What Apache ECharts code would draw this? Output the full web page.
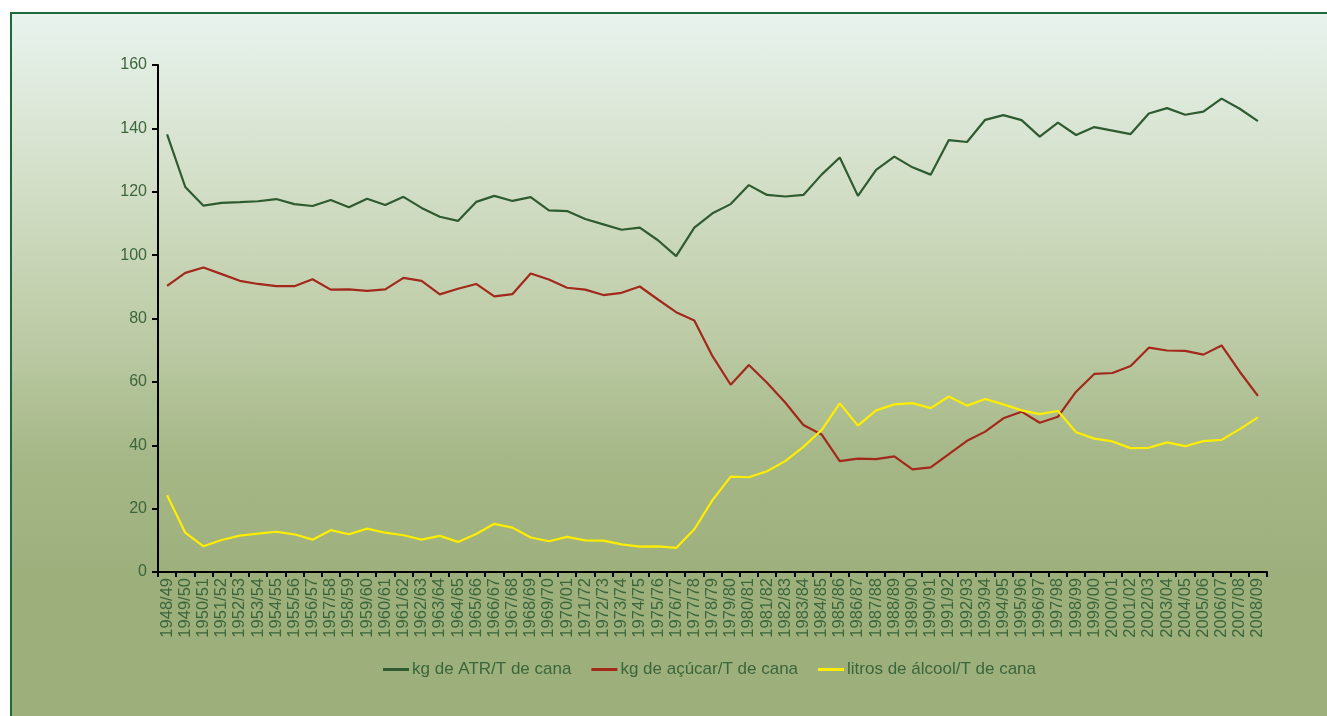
<!DOCTYPE html>
<html>
<head>
    <meta charset="utf-8">
    <title>ATR, açúcar e álcool por tonelada de cana</title>
    <script src="https://cdn.jsdelivr.net/npm/echarts@6/dist/echarts.min.js"></script>
    <style>
        html, body { margin: 0; padding: 0; background: #ffffff; overflow: hidden; }
        #bg {
            position: absolute; left: 10px; top: 12px; width: 1330px; height: 720px;
            border-top: 2px solid #1e6a3a; border-left: 2px solid #1e6a3a;
            background: linear-gradient(to bottom, #e8f3ee 0%, #d4e0c9 22%, #bccba5 45%, #a5b786 62%, #9db07c 78%, #9db07c 100%);
        }
        #main { position: absolute; left: 0; top: 0; width: 1327px; height: 716px; }
    </style>
</head>
<body>
    <div id="bg"></div>
    <div id="main"></div>

    <script>
        // safras 1948/49 .. 2008/09
        var safras = [
            '1948/49', '1949/50', '1950/51', '1951/52', '1952/53', '1953/54', '1954/55', '1955/56', '1956/57', '1957/58',
            '1958/59', '1959/60', '1960/61', '1961/62', '1962/63', '1963/64', '1964/65', '1965/66', '1966/67', '1967/68',
            '1968/69', '1969/70', '1970/01', '1971/72', '1972/73', '1973/74', '1974/75', '1975/76', '1976/77', '1977/78',
            '1978/79', '1979/80', '1980/81', '1981/82', '1982/83', '1983/84', '1984/85', '1985/86', '1986/87', '1987/88',
            '1988/89', '1989/90', '1990/91', '1991/92', '1992/93', '1993/94', '1994/95', '1995/96', '1996/97', '1997/98',
            '1998/99', '1999/00', '2000/01', '2001/02', '2002/03', '2003/04', '2004/05', '2005/06', '2006/07', '2007/08',
            '2008/09'
        ];

        // kg de ATR/T de cana
        var atr = [
            138.1, 121.5, 115.6, 116.5, 116.7, 117.0, 117.7, 116.1, 115.5, 117.4,
            115.1, 117.8, 115.8, 118.4, 114.9, 112.1, 110.8, 116.8, 118.7, 117.1,
            118.3, 114.1, 113.9, 111.4, 109.7, 108.0, 108.7, 104.7, 99.7, 108.7,
            113.2, 116.1, 122.1, 119.0, 118.5, 119.0, 125.4, 130.8, 118.7, 126.9,
            131.1, 127.7, 125.4, 136.3, 135.7, 142.7, 144.2, 142.6, 137.4, 141.8,
            137.9, 140.4, 139.3, 138.2, 144.7, 146.4, 144.3, 145.3, 149.4, 146.2,
            142.3
        ];

        // kg de açúcar/T de cana
        var acucar = [
            90.3, 94.4, 96.1, 94.0, 91.9, 90.9, 90.2, 90.2, 92.4, 89.1,
            89.2, 88.7, 89.2, 92.8, 91.9, 87.6, 89.4, 90.9, 87.0, 87.7,
            94.2, 92.3, 89.7, 89.1, 87.4, 88.1, 90.1, 86.0, 82.0, 79.4,
            68.1, 59.1, 65.3, 59.7, 53.5, 46.4, 43.4, 35.0, 35.8, 35.6,
            36.5, 32.4, 33.0, 37.2, 41.4, 44.3, 48.5, 50.6, 47.1, 49.0,
            56.9, 62.5, 62.8, 65.0, 70.8, 69.9, 69.8, 68.6, 71.5, 63.2,
            55.6
        ];

        // litros de álcool/T de cana
        var alcool = [
            24.2, 12.4, 8.1, 10.1, 11.5, 12.1, 12.7, 11.9, 10.2, 13.2,
            11.9, 13.7, 12.4, 11.6, 10.2, 11.4, 9.5, 12.0, 15.2, 14.0,
            10.9, 9.7, 11.1, 10.0, 9.9, 8.7, 8.0, 8.1, 7.6, 13.5,
            22.7, 30.1, 29.9, 31.8, 35.0, 39.5, 44.8, 53.2, 46.2, 51.0,
            52.9, 53.3, 51.7, 55.4, 52.5, 54.6, 52.9, 51.0, 49.8, 50.8,
            44.1, 42.1, 41.2, 39.1, 39.2, 40.9, 39.7, 41.3, 41.7, 45.1,
            48.8
        ];

        var nomes = ['kg de ATR/T de cana', 'kg de açúcar/T de cana', 'litros de álcool/T de cana'];
        var cores = ['#2e5b30', '#a3281c', '#ffee00'];
        var dados = [atr, acucar, alcool];

        var textColor = '#3b653b';
        var fonte = '"Liberation Sans", Arial, sans-serif';

        var myChart = echarts.init(document.getElementById('main'));

        var option = {
            backgroundColor: 'transparent',
            animation: false,
            textStyle: { fontFamily: fonte },
            grid: {
                left: 158,
                top: 65,
                right: 60,
                bottom: 144,
                containLabel: false
            },
            legend: {
                data: nomes,
                top: 656,
                left: 378,
                icon: 'rect',
                itemWidth: 26,
                itemHeight: 3,
                itemGap: 20,
                textStyle: { color: textColor, fontSize: 17, fontFamily: fonte, padding: [0, 0, 0, -2] }
            },
            xAxis: {
                type: 'category',
                data: safras,
                boundaryGap: true,
                axisLine: { lineStyle: { color: '#000000', width: 2 } },
                axisTick: { show: true, length: 5, interval: 0, lineStyle: { color: '#000000', width: 2 } },
                axisLabel: {
                    interval: 0,
                    rotate: 90,
                    color: textColor,
                    fontSize: 16.5,
                    fontFamily: fonte,
                    margin: 6
                },
                splitLine: { show: false }
            },
            yAxis: {
                type: 'value',
                min: 0,
                max: 160,
                interval: 20,
                axisLine: { show: true, lineStyle: { color: '#000000', width: 2 } },
                axisTick: { show: true, length: 6, lineStyle: { color: '#000000', width: 2 } },
                axisLabel: { color: textColor, fontSize: 16, fontFamily: fonte, margin: 11 },
                splitLine: { show: false }
            },
            series: nomes.map(function (nome, i) {
                return {
                    name: nome,
                    type: 'line',
                    data: dados[i],
                    symbol: 'none',
                    smooth: false,
                    itemStyle: { color: cores[i] },
                    lineStyle: { color: cores[i], width: 2.2 }
                };
            })
        };

        myChart.setOption(option);
    </script>
</body>
</html>
